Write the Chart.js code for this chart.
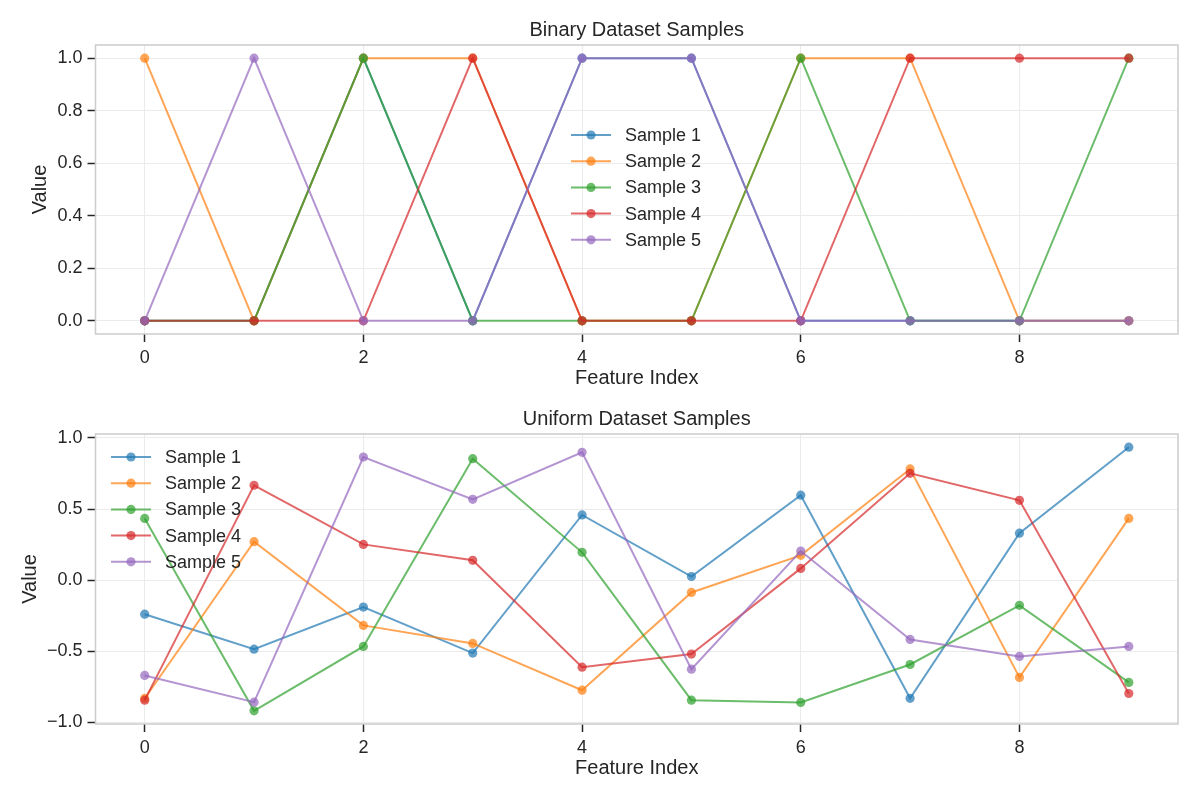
<!DOCTYPE html>
<html><head><meta charset="utf-8">
<script src="https://cdn.jsdelivr.net/npm/chart.js@4.4.1/dist/chart.umd.min.js"></script>
<style>
html,body{margin:0;padding:0;background:#fff;}
#wrap{position:relative;width:1200px;height:800px;}
.box{position:absolute;left:0;width:1200px;height:400px;}
</style></head><body>
<div id="wrap">
<div class="box" style="top:0"><canvas id="c1" width="1200" height="400"></canvas></div>
<div class="box" style="top:400px"><canvas id="c2" width="1200" height="400"></canvas></div>
</div>
<script>
// ---- data ----
const featureIndex = [0,1,2,3,4,5,6,7,8,9];
const seriesNames = ['Sample 1','Sample 2','Sample 3','Sample 4','Sample 5'];

const binarySample1 = [0,0,1,0,1,1,0,0,0,0];
const binarySample2 = [1,0,1,1,0,0,1,1,0,0];
const binarySample3 = [0,0,1,0,0,0,1,0,0,1];
const binarySample4 = [0,0,0,1,0,0,0,1,1,1];
const binarySample5 = [0,1,0,0,1,1,0,0,0,0];

const uniformSample1 = [-0.24,-0.486,-0.19,-0.514,0.458,0.025,0.597,-0.832,0.33,0.935];
const uniformSample2 = [-0.833,0.27,-0.319,-0.446,-0.775,-0.087,0.174,0.782,-0.685,0.434];
const uniformSample3 = [0.434,-0.92,-0.467,0.854,0.195,-0.845,-0.861,-0.594,-0.178,-0.72];
const uniformSample4 = [-0.845,0.667,0.251,0.139,-0.613,-0.521,0.082,0.751,0.561,-0.798];
const uniformSample5 = [-0.671,-0.859,0.866,0.568,0.899,-0.627,0.204,-0.418,-0.537,-0.467];

const xTickValues = [0,2,4,6,8];
const binaryYTicks = [0,0.2,0.4,0.6,0.8,1.0];
const uniformYTicks = [-1.0,-0.5,0.0,0.5,1.0];

const binaryTitle = 'Binary Dataset Samples';
const uniformTitle = 'Uniform Dataset Samples';
const xAxisLabel = 'Feature Index';
const yAxisLabel = 'Value';

// ---- styling ----
const rgb = ['31,119,180','255,127,14','44,160,44','214,39,40','148,103,189'];
const FONT = '"Liberation Sans", Arial, sans-serif';
const TXT = '#262626';
const GRID = '#ebebeb';

function fmt(v){ return (v < 0 ? '\u2212' : '') + Math.abs(v).toFixed(1); }

function makeDatasets(arrs){
  return arrs.map((arr,i)=>({
    label: seriesNames[i],
    data: featureIndex.map((x,j)=>({x:x, y:arr[j]})),
    borderColor: 'rgba('+rgb[i]+',0.7)',
    backgroundColor: 'rgba('+rgb[i]+',0.7)',
    pointBackgroundColor: 'rgba('+rgb[i]+',0.7)',
    pointBorderWidth: 0,
    pointRadius: 4.6,
    pointHoverRadius: 4.6,
    borderWidth: 2,
    tension: 0,
    order: arrs.length - 1 - i
  }));
}

const decor = {
  id: 'decor',
  afterDraw(chart, args, opts){
    const ctx = chart.ctx, a = chart.chartArea;
    ctx.save();
    // frame
    ctx.strokeStyle = '#cccccc';
    ctx.lineWidth = 1.5;
    ctx.strokeRect(a.left, a.top, a.right - a.left, a.bottom - a.top);
    const cx = (a.left + a.right)/2;
    ctx.fillStyle = TXT;
    ctx.font = '20px ' + FONT;
    ctx.textAlign = 'center';
    ctx.textBaseline = 'middle';
    ctx.fillText(opts.title, cx, a.top - 15);
    ctx.fillText(xAxisLabel, cx, a.bottom + 44);
    ctx.save();
    ctx.translate(opts.ylabelX, (a.top + a.bottom)/2);
    ctx.rotate(-Math.PI/2);
    ctx.fillText(yAxisLabel, 0, 0);
    ctx.restore();
    // legend
    ctx.font = '18px ' + FONT;
    ctx.textAlign = 'left';
    seriesNames.forEach((name,i)=>{
      const y = opts.legendY + i*26.2;
      const x = opts.legendX;
      ctx.strokeStyle = 'rgba('+rgb[i]+',0.7)';
      ctx.lineWidth = 2;
      ctx.beginPath(); ctx.moveTo(x, y); ctx.lineTo(x+40, y); ctx.stroke();
      ctx.fillStyle = 'rgba('+rgb[i]+',0.7)';
      ctx.beginPath(); ctx.arc(x+20, y, 4.6, 0, Math.PI*2); ctx.fill();
      ctx.fillStyle = TXT;
      ctx.fillText(name, x+54, y+1);
    });
    ctx.restore();
  }
};

function makeChart(id, arrs, yMin, yMax, yTicks, padTop, padBottom, title, legendX, legendY, ylabelX){
  return new Chart(document.getElementById(id), {
    type: 'line',
    data: { datasets: makeDatasets(arrs) },
    plugins: [decor],
    options: {
      responsive: false,
      animation: false,
      events: [],
      layout: { padding: { top: padTop, bottom: padBottom, left: 0, right: 22 } },
      plugins: {
        legend: { display: false },
        tooltip: { enabled: false },
        decor: { title: title, legendX: legendX, legendY: legendY, ylabelX: ylabelX }
      },
      scales: {
        x: {
          type: 'linear',
          min: -0.45, max: 9.45,
          afterBuildTicks: ax => { ax.ticks = xTickValues.map(v=>({value:v})); },
          afterFit: s => { s.height = 30; },
          border: { display: false },
          grid: { color: GRID, lineWidth: 1, tickColor: TXT, tickLength: 8, tickWidth: 1.5 },
          ticks: { color: TXT, font: { size: 18, family: FONT }, padding: 5,
                   callback: v => String(v), maxRotation: 0 }
        },
        y: {
          type: 'linear',
          min: yMin, max: yMax,
          afterBuildTicks: ax => { ax.ticks = yTicks.map(v=>({value:v})); },
          afterFit: s => { s.width = 95.5; },
          border: { display: false },
          grid: { color: GRID, lineWidth: 1, tickColor: TXT, tickLength: 8, tickWidth: 1.5 },
          ticks: { color: TXT, font: { size: 18, family: FONT }, padding: 5, callback: v => fmt(v) }
        }
      }
    }
  });
}

const binArrs = [binarySample1,binarySample2,binarySample3,binarySample4,binarySample5];
const uniArrs = [uniformSample1,uniformSample2,uniformSample3,uniformSample4,uniformSample5];

const allBin = binArrs.flat(), allUni = uniArrs.flat();
const bMin = Math.min(...allBin), bMax = Math.max(...allBin), bSpan = bMax - bMin;
const uMin = Math.min(...allUni), uMax = Math.max(...allUni), uSpan = uMax - uMin;

makeChart('c1', binArrs, bMin - 0.05*bSpan, bMax + 0.05*bSpan, binaryYTicks, 45, 36, binaryTitle, 571, 135, 40);
makeChart('c2', uniArrs, uMin - 0.05*uSpan, uMax + 0.05*uSpan, uniformYTicks, 34, 46, uniformTitle, 111, 57, 30);
</script>
</body></html>
